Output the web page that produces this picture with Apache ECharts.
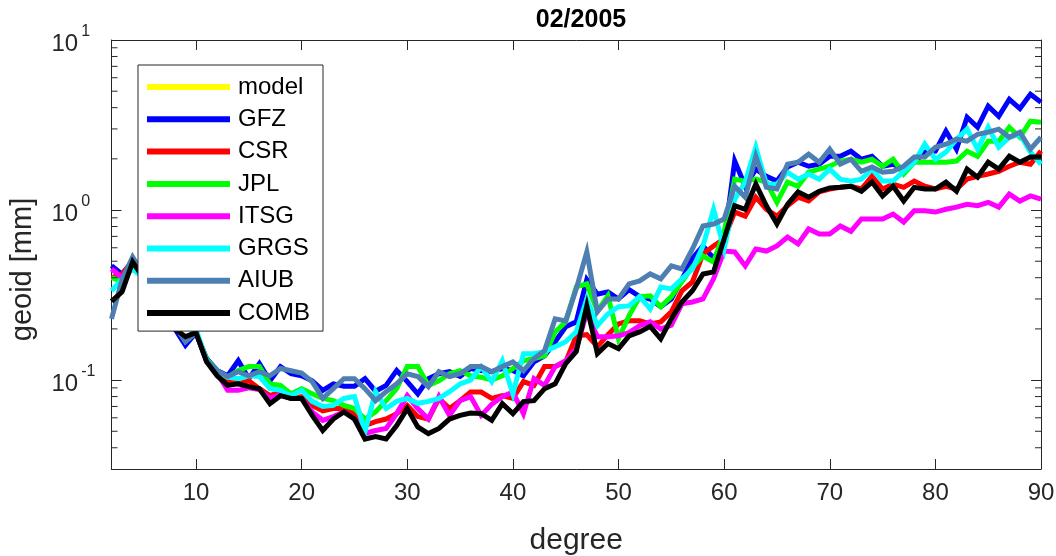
<!DOCTYPE html>
<html><head><meta charset="utf-8">
<script src="https://cdn.jsdelivr.net/npm/echarts@6/dist/echarts.min.js"></script>
<style>html,body{margin:0;padding:0;background:#fff}#c{width:1056px;height:556px}</style>
</head><body><div id="c"></div><script>
const degrees = [2,3,4,5,6,7,8,9,10,11,12,13,14,15,16,17,18,19,20,21,22,23,24,25,26,27,28,29,30,31,32,33,34,35,36,37,38,39,40,41,42,43,44,45,46,47,48,49,50,51,52,53,54,55,56,57,58,59,60,61,62,63,64,65,66,67,68,69,70,71,72,73,74,75,76,77,78,79,80,81,82,83,84,85,86,87,88,89,90];
const seriesNames = ['model','GFZ','CSR','JPL','ITSG','GRGS','AIUB','COMB'];
const modelValues = [];
const gfzValues = [0.47,0.42,0.50,0.39,0.32,0.28,0.20,0.16,0.19,0.134,0.114,0.106,0.13,0.102,0.125,0.099,0.12,0.109,0.106,0.099,0.087,0.095,0.092,0.092,0.102,0.086,0.093,0.114,0.098,0.083,0.102,0.109,0.112,0.105,0.117,0.114,0.112,0.117,0.114,0.106,0.128,0.139,0.168,0.206,0.22,0.39,0.32,0.33,0.30,0.34,0.31,0.30,0.27,0.30,0.39,0.52,0.615,0.52,0.65,1.94,1.38,1.74,1.58,1.48,1.79,1.91,1.81,1.86,2.07,2.07,2.22,1.99,2.07,1.81,1.86,1.74,1.91,2.19,2.22,2.91,2.28,3.51,3.07,4.08,3.56,4.48,3.95,4.8,4.3];
const csrValues = [0.40,0.42,0.50,0.40,0.33,0.28,0.21,0.17,0.19,0.13,0.11,0.10,0.095,0.099,0.089,0.081,0.085,0.078,0.080,0.071,0.066,0.068,0.068,0.0635,0.054,0.057,0.059,0.0635,0.071,0.061,0.059,0.078,0.068,0.0757,0.085,0.085,0.078,0.081,0.078,0.098,0.093,0.12,0.12,0.128,0.182,0.185,0.157,0.185,0.214,0.223,0.223,0.214,0.22,0.252,0.335,0.378,0.552,0.615,0.676,0.973,0.922,1.19,1.01,0.92,1.06,1.19,1.13,1.28,1.33,1.36,1.38,1.33,1.58,1.33,1.42,1.36,1.48,1.38,1.33,1.38,1.33,1.52,1.58,1.63,1.69,1.81,1.91,1.86,2.22];
const jplValues = [0.40,0.38,0.50,0.40,0.33,0.28,0.21,0.17,0.19,0.133,0.113,0.104,0.114,0.12,0.12,0.095,0.093,0.083,0.089,0.083,0.078,0.0757,0.071,0.068,0.059,0.065,0.0757,0.089,0.12,0.12,0.093,0.099,0.109,0.1135,0.106,0.104,0.10,0.106,0.117,0.13,0.134,0.139,0.192,0.22,0.353,0.368,0.255,0.313,0.175,0.239,0.309,0.313,0.27,0.31,0.378,0.463,0.537,0.495,0.743,1.52,1.48,1.52,1.46,1.11,1.46,1.38,1.67,1.74,1.81,1.94,1.99,1.91,1.99,1.81,1.99,1.63,1.91,1.91,1.91,1.91,1.94,2.22,2.07,2.54,2.54,3.07,2.68,3.33,3.28];
const itsgValues = [0.45,0.40,0.50,0.40,0.33,0.28,0.21,0.17,0.19,0.13,0.11,0.087,0.087,0.09,0.088,0.078,0.082,0.078,0.078,0.065,0.058,0.061,0.065,0.059,0.0485,0.0505,0.052,0.0635,0.081,0.068,0.059,0.08,0.062,0.0757,0.08,0.062,0.072,0.08,0.085,0.0635,0.102,0.093,0.12,0.13,0.153,0.25,0.18,0.18,0.182,0.19,0.209,0.22,0.2,0.21,0.281,0.288,0.30,0.394,0.574,0.567,0.469,0.59,0.574,0.615,0.694,0.632,0.774,0.723,0.723,0.806,0.75,0.886,0.886,0.886,0.947,0.85,0.99,0.99,0.973,1.01,1.04,1.08,1.06,1.11,1.04,1.24,1.13,1.21,1.16];
const grgsValues = [0.335,0.39,0.45,0.40,0.33,0.27,0.21,0.17,0.20,0.13,0.113,0.104,0.102,0.106,0.105,0.089,0.087,0.081,0.087,0.075,0.07,0.071,0.078,0.08,0.05,0.0855,0.068,0.075,0.078,0.073,0.075,0.078,0.0855,0.095,0.10,0.12,0.098,0.13,0.083,0.143,0.143,0.147,0.157,0.168,0.192,0.30,0.209,0.245,0.27,0.273,0.31,0.262,0.353,0.344,0.394,0.45,0.615,1.01,0.59,1.16,1.46,2.34,1.42,1.42,1.67,1.52,1.63,1.52,1.74,1.52,1.48,1.52,1.74,1.48,1.48,1.69,1.91,2.44,1.99,2.19,2.61,2.99,2.28,3.07,2.34,2.68,2.79,2.19,1.86];
const aiubValues = [0.229,0.39,0.53,0.42,0.34,0.28,0.21,0.168,0.19,0.13,0.113,0.105,0.112,0.106,0.112,0.106,0.117,0.1135,0.11,0.098,0.078,0.089,0.102,0.102,0.089,0.0757,0.0855,0.095,0.109,0.105,0.0915,0.112,0.105,0.109,0.12,0.12,0.112,0.12,0.128,0.1135,0.134,0.149,0.229,0.223,0.344,0.567,0.252,0.30,0.30,0.368,0.383,0.421,0.394,0.469,0.45,0.59,0.806,0.828,0.886,1.38,1.19,2.07,1.36,1.33,1.86,1.91,2.13,1.91,2.28,1.86,1.99,1.69,1.79,1.67,1.69,1.81,2.05,2.05,2.34,2.44,2.61,2.54,2.79,2.87,2.99,2.68,2.87,2.28,2.68];
const combValues = [0.29,0.33,0.495,0.40,0.33,0.27,0.20,0.18,0.19,0.128,0.106,0.093,0.095,0.0915,0.089,0.0727,0.081,0.078,0.078,0.062,0.0505,0.059,0.065,0.059,0.045,0.0465,0.045,0.054,0.068,0.053,0.0485,0.052,0.059,0.062,0.064,0.0635,0.058,0.0727,0.0635,0.0747,0.0757,0.089,0.095,0.125,0.147,0.273,0.143,0.164,0.153,0.182,0.192,0.207,0.175,0.229,0.288,0.335,0.421,0.433,0.676,1.06,1.01,1.42,1.06,0.828,1.08,1.28,1.19,1.29,1.35,1.36,1.38,1.29,1.46,1.21,1.38,1.13,1.36,1.33,1.33,1.46,1.29,1.74,1.56,1.91,1.74,2.07,1.91,2.05,2.05];
const xTicks = [10,20,30,40,50,60,70,80,90];
const yMinorTicks = [0.04,0.05,0.06,0.07,0.08,0.09,0.2,0.3,0.4,0.5,0.6,0.7,0.8,0.9,2,3,4,5,6,7,8,9];
const xMin = 2, xMax = 90, yMin = 0.03, yMax = 10;
const titleText = '02/2005', xName = 'degree', yName = 'geoid [mm]';

const allValues = [modelValues,gfzValues,csrValues,jplValues,itsgValues,grgsValues,aiubValues,combValues];
const colors = ['#ffff00','#0000ff','#ff0000','#00ff00','#ff00ff','#00ffff','#4d7fb3','#000000'];
const F = '"Liberation Sans", Arial, Helvetica, sans-serif';
const AX = '#262626';

const chart = echarts.init(document.getElementById('c'), null, {renderer:'canvas'});
const lineSeries = seriesNames.map((n,k)=>({
  name:n, type:'line', xAxisIndex:0, yAxisIndex:0,
  data: allValues[k].map((v,i)=>[degrees[i], v]),
  showSymbol:false, symbol:'none', color: colors[k],
  lineStyle:{width:5, color: colors[k], join:'miter'},
  emphasis:{disabled:true}, silent:true, z: 2
}));
const minorSeries = {
  type:'custom', xAxisIndex:0, yAxisIndex:0, silent:true, z:5, clip:false,
  data: yMinorTicks.map(v=>[xMin, v]),
  renderItem:(params, api)=>{
    const v = api.value(1);
    const pL = api.coord([xMin, v]);
    const pR = api.coord([xMax, v]);
    const st = {stroke:AX, lineWidth:1};
    return {type:'group', children:[
      {type:'line', shape:{x1:pL[0], y1:pL[1], x2:pL[0]+6, y2:pL[1]}, style:st},
      {type:'line', shape:{x1:pR[0], y1:pR[1], x2:pR[0]-6, y2:pR[1]}, style:st}
    ]};
  }
};
const yFmt = v => {
  const l = Math.log10(v), e = Math.round(l);
  if (Math.abs(l-e) > 1e-6) return '';
  return '{b|10}{s|' + e + '}';
};
chart.setOption({
  animation:false,
  backgroundColor:'#ffffff',
  title:{text:titleText, left:576, top:3, textAlign:'center',
    textStyle:{fontFamily:F, fontSize:25, fontWeight:'bold', color:'#000'}},
  grid:{left:111.5, right:15, top:40, bottom:87, containLabel:false, outerBoundsMode:'none'},
  legend:{
    data:seriesNames, left:138, top:65, orient:'vertical',
    icon:'rect', itemWidth:83, itemHeight:6, itemGap:8.3,
    padding:[10,13,6,9], backgroundColor:'#fff', borderColor:AX, borderWidth:1,
    textStyle:{fontFamily:F, fontSize:24, color:'#000', lineHeight:24, padding:[0,0,0,3]},
    selectedMode:false
  },
  xAxis:[{
    type:'value', min:xMin, max:xMax, position:'bottom',
    name:xName, nameLocation:'middle', nameGap:57,
    nameTextStyle:{fontFamily:F, fontSize:30, color:AX},
    axisLine:{show:true, onZero:false, lineStyle:{color:AX, width:1}},
    axisTick:{show:true, inside:true, length:10, customValues:xTicks, lineStyle:{color:AX}},
    axisLabel:{show:true, customValues:xTicks, margin:12, fontFamily:F, fontSize:24, color:AX},
    splitLine:{show:false}
  },{
    type:'value', min:xMin, max:xMax, position:'top',
    axisLine:{show:true, onZero:false, lineStyle:{color:AX, width:1}},
    axisTick:{show:true, inside:true, length:10, customValues:xTicks, lineStyle:{color:AX}},
    axisLabel:{show:false}, splitLine:{show:false}
  }],
  yAxis:[{
    type:'log', logBase:10, min:yMin, max:yMax, position:'left',
    name:yName, nameLocation:'middle', nameGap:74, nameRotate:90,
    nameTextStyle:{fontFamily:F, fontSize:29, color:AX, padding:[0,30,0,0]},
    axisLine:{show:true, onZero:false, lineStyle:{color:AX, width:1}},
    axisTick:{show:true, inside:true, length:10, lineStyle:{color:AX}},
    axisLabel:{show:true, margin:60, align:'left', formatter:yFmt,
      rich:{
        b:{fontFamily:F, fontSize:24, color:AX, padding:[8,0,0,0]},
        s:{fontFamily:F, fontSize:16, color:AX, verticalAlign:'top', padding:[0,0,0,3]}
      }},
    splitLine:{show:false}, minorTick:{show:false}
  },{
    type:'log', logBase:10, min:yMin, max:yMax, position:'right',
    axisLine:{show:true, onZero:false, lineStyle:{color:AX, width:1}},
    axisTick:{show:true, inside:true, length:10, lineStyle:{color:AX}},
    axisLabel:{show:false}, splitLine:{show:false}
  }],
  series: lineSeries.concat([minorSeries])
});
</script></body></html>
